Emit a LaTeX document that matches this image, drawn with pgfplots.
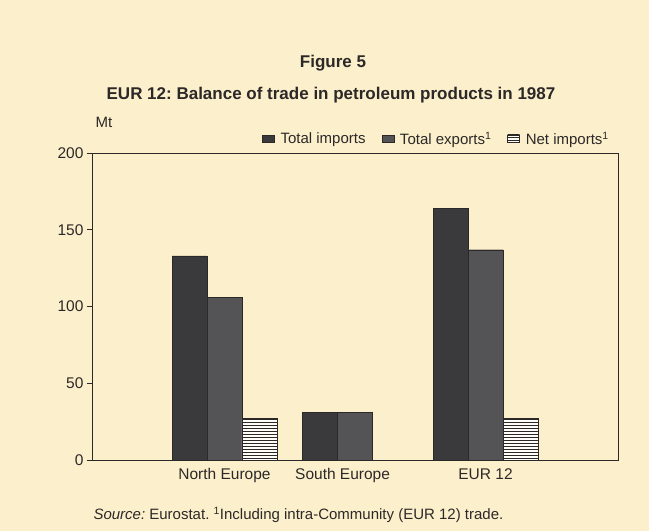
\documentclass[border=0pt]{standalone}
\usepackage{fontspec}
\setmainfont{Liberation Sans}
\usepackage{pgfplots}
\pgfplotsset{compat=1.18}
\usetikzlibrary{patterns}
\definecolor{bg}{RGB}{251,240,203}
\definecolor{imp}{RGB}{58,57,60}
\definecolor{expc}{RGB}{84,83,86}
\definecolor{ink}{RGB}{45,40,40}
\frenchspacing
\begin{document}
\begin{tikzpicture}
\fill[bg] (0pt,0pt) rectangle (649pt,531pt);
\node[font=\bfseries\fontsize{17}{20}\selectfont, text=ink] at (333pt,468pt) {Figure 5};
\node[font=\bfseries\fontsize{17}{20}\selectfont, text=ink] at (331pt,436pt) {EUR 12: Balance of trade in petroleum products in 1987};
\node[font=\fontsize{15}{18}\selectfont, text=ink] at (104pt,409pt) {Mt};
\node[font=\fontsize{15}{18}\selectfont, text=ink, anchor=base west] at (90pt,11pt) {\textit{Source:} Eurostat. \textsuperscript{1}Including intra-Community (EUR 12) trade.};
\begin{axis}[
  at={(92pt,71pt)}, anchor=south west,
  width=526pt, height=307pt, scale only axis,
  ymin=0, ymax=200, ytick={0,50,100,150,200},
  xmin=-1.015, xmax=3.015,
  xtick={0,0.905,2}, xticklabels={North Europe, South Europe, EUR 12},
  ybar=0pt,
  axis line style={ink, line width=0.9pt},
  ytick pos=left, tick align=outside, major tick length=5pt,
  ytick style={ink, line width=0.8pt},
  xtick style={draw=none},
  tick label style={font=\fontsize{15.5}{18}\selectfont, text=ink},
  /pgf/number format/assume math mode=true,
  legend columns=3,
  legend style={at={(1,1)}, anchor=south east, xshift=-4pt, yshift=3pt, draw=none, fill=none,
    font=\fontsize{15}{18}\selectfont, text=ink,
    /tikz/every odd column/.append style={column sep=4pt},
    /tikz/every even column/.append style={column sep=14pt}},
  legend image code/.code={\draw[#1] (0pt,-3pt) rectangle (12pt,4pt);},
]
\addplot[fill=imp, draw=ink, bar width=0.268, bar shift=-0.268] coordinates {(0,133) (1,31) (2,164)};
\addlegendentry{Total imports}
\addplot[fill=expc, draw=ink, bar width=0.268, bar shift=0] coordinates {(0,106) (1,31) (2,137)};
\addlegendentry{Total exports\textsuperscript{1}}
\addplot[fill=white!85!bg, draw=ink, postaction={pattern=horizontal lines, pattern color=ink}, bar width=0.268, bar shift=0.268] coordinates {(0,27) (2,27)};
\addlegendentry{Net imports\textsuperscript{1}}
\end{axis}
\end{tikzpicture}
\end{document}
